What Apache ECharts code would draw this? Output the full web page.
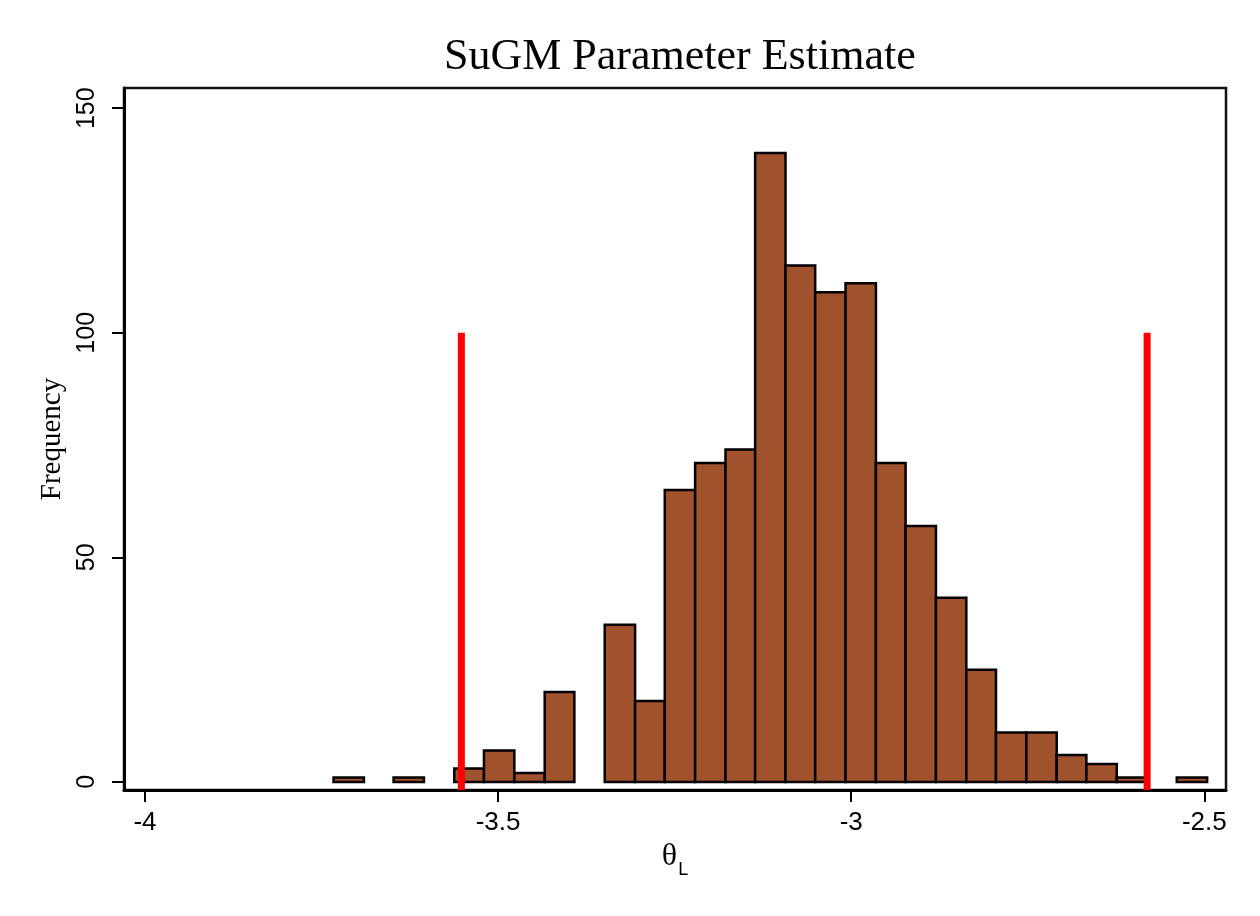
<!DOCTYPE html>
<html>
<head>
<meta charset="utf-8">
<title>SuGM Parameter Estimate</title>
<script src="https://cdn.jsdelivr.net/npm/echarts@6/dist/echarts.min.js"></script>
<style>
html, body { margin: 0; padding: 0; background: #fff; }
#chart { width: 1260px; height: 916px; }
</style>
</head>
<body>
<div id="chart"></div>
<script>
// histogram bin edges (theta_L), 29 bins
var binEdges = [-3.733, -3.690, -3.648, -3.605, -3.562, -3.520, -3.477, -3.434, -3.392, -3.349,
    -3.306, -3.264, -3.221, -3.178, -3.136, -3.093, -3.051, -3.008, -2.965, -2.923,
    -2.880, -2.837, -2.795, -2.752, -2.709, -2.667, -2.624, -2.581, -2.539, -2.496];
// frequency per bin
var frequency = [1, 0, 1, 0, 3, 7, 2, 20, 0, 35, 18, 65, 71, 74, 140, 115, 109, 111, 71, 57,
    41, 25, 11, 11, 6, 4, 1, 0, 1];
// red reference lines
var cutoffs = [-3.552, -2.581];
var cutoffTop = 100;
// tick labels
var xTicks = [-4, -3.5, -3, -2.5];
var yTicks = [0, 50, 100, 150];

var xMin = -4.0297, xMax = -2.4693;
var yMin = -1.8, yMax = 154.5;

var myChart = echarts.init(document.getElementById('chart'));

var histData = [];
for (var i = 0; i < frequency.length; i++) {
    histData.push([binEdges[i], binEdges[i + 1], frequency[i]]);
}

var lineSeries = cutoffs.map(function (c) {
    return {
        type: 'line', data: [[c, yMin], [c, cutoffTop]], symbol: 'none', z: 5,
        lineStyle: { color: '#ff0000', width: 7, cap: 'butt' }, animation: false
    };
});

myChart.setOption({
    animation: false,
    title: {
        text: 'SuGM Parameter Estimate', left: 439, top: 30,
        textStyle: { fontFamily: 'Liberation Serif', fontSize: 44, fontWeight: 'normal', color: '#000' }
    },
    grid: { left: 124, right: 34, top: 88, bottom: 126, show: true, borderColor: '#111', borderWidth: 2.5 },
    xAxis: {
        type: 'value', min: xMin, max: xMax,
        name: '{a|θ}{b|L}', nameLocation: 'middle', nameGap: 50,
        nameTextStyle: {
            rich: {
                a: { fontFamily: 'Liberation Serif', fontSize: 32, lineHeight: 32, color: '#000' },
                b: { fontFamily: 'Liberation Sans', fontSize: 18, lineHeight: 18, padding: [20, 0, 0, 1], verticalAlign: 'top', color: '#000' }
            }
        },
        axisLine: { onZero: false, lineStyle: { color: '#000', width: 3 } },
        axisTick: { length: 12, lineStyle: { color: '#000', width: 2 }, customValues: xTicks },
        axisLabel: {
            customValues: xTicks, margin: 20, color: '#000', fontSize: 26, fontFamily: 'Liberation Sans'
        },
        splitLine: { show: false }
    },
    yAxis: {
        type: 'value', min: yMin, max: yMax,
        name: 'Frequency', nameLocation: 'middle', nameGap: 50, nameRotate: 90,
        nameTextStyle: { fontFamily: 'Liberation Serif', fontSize: 29, color: '#000' },
        axisLine: { show: true, onZero: false, lineStyle: { color: '#000', width: 3 } },
        axisTick: { show: true, length: 12, lineStyle: { color: '#000', width: 2 }, customValues: yTicks },
        axisLabel: {
            customValues: yTicks, rotate: 90, margin: 24, color: '#000', fontSize: 25, fontFamily: 'Liberation Sans'
        },
        splitLine: { show: false }
    },
    series: [{
        type: 'custom',
        data: histData,
        encode: { x: [0, 1], y: 2 },
        renderItem: function (params, api) {
            var n = api.value(2);
            if (!n) return;
            var p0 = api.coord([api.value(0), n]);
            var p1 = api.coord([api.value(1), 0]);
            return {
                type: 'rect',
                shape: { x: p0[0], y: p0[1], width: p1[0] - p0[0], height: p1[1] - p0[1] },
                style: { fill: '#a0522d', stroke: '#000', lineWidth: 2.5 }
            };
        }
    }].concat(lineSeries)
});
</script>
</body>
</html>
